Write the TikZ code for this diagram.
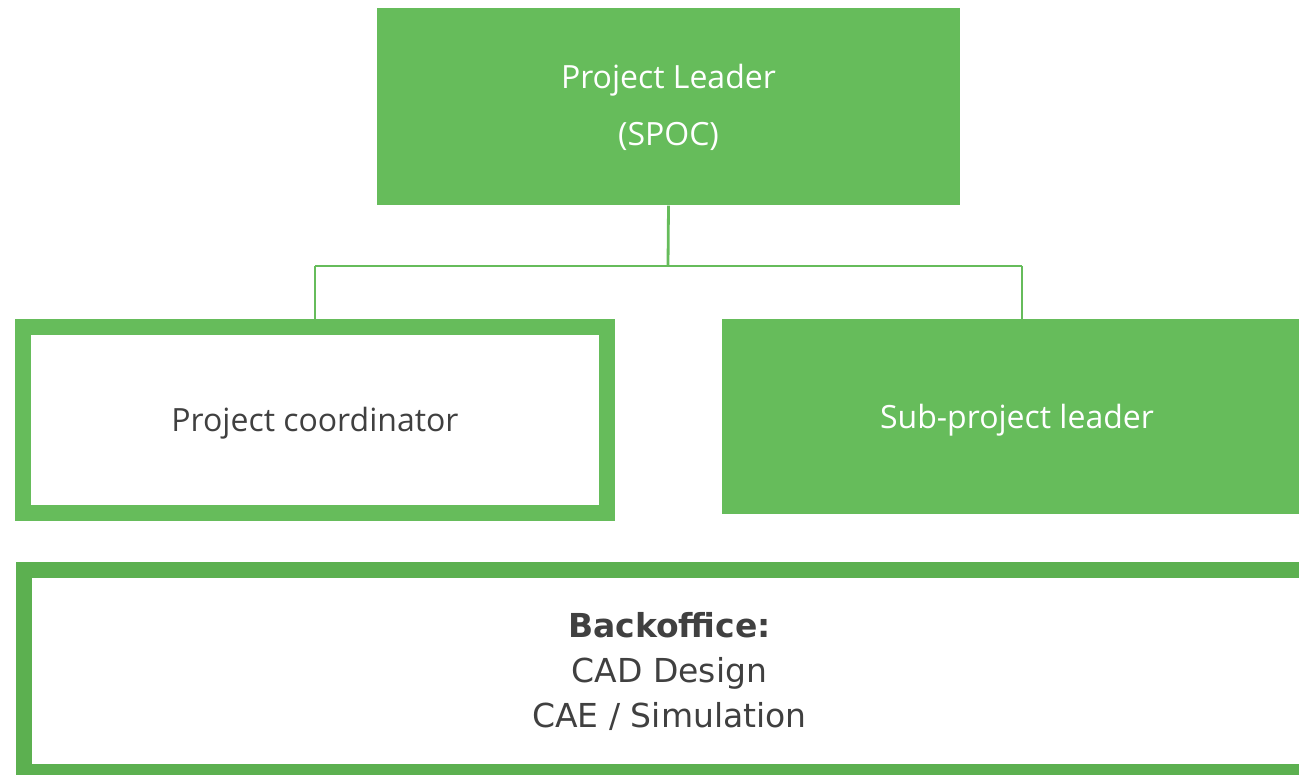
\documentclass[tikz,border=0pt]{standalone}
\usepackage{fontspec}
\newfontfamily\segfont{Open Sans}
\newfontfamily\tahfont{DejaVu Sans}
\definecolor{boxgreen}{HTML}{66BC5B}
\definecolor{framegreen}{HTML}{5CB050}
\definecolor{txtgrey}{HTML}{404040}
\tikzset{
  x=1pt, y=-1pt,
  greenbox/.style={rectangle, fill=boxgreen, draw=none, inner sep=0pt, text=white,
    font=\segfont\fontsize{32}{57}\selectfont, align=center},
  framebox/.style={rectangle, draw=#1, line width=16pt, fill=white, inner sep=0pt,
    text=txtgrey, align=center},
  conn/.style={draw=boxgreen, line width=2.8pt}
}
\begin{document}
\begin{tikzpicture}
\useasboundingbox (0,0) rectangle (1299,775);
\clip (0,0) rectangle (1299,775);
\node[greenbox, minimum width=583pt, minimum height=197pt] (top) at (668.5,107)
  {Project Leader\\(SPOC)};
\node[framebox=boxgreen, minimum width=584pt, minimum height=186pt,
  text height=31pt, text depth=7.5pt,
  font=\segfont\fontsize{32}{40}\selectfont] (left) at (315,420) {Project coordinator};
\node[greenbox, minimum width=590pt, minimum height=195pt,
  text height=32pt, text depth=7.5pt] (right) at (1017,416.5)
  {Sub-project leader};
\node[framebox=framegreen, minimum width=1291pt, minimum height=202pt,
  font=\tahfont\fontsize{33}{45}\selectfont] (back) at (669.5,671)
  {\textbf{Backoffice:}\\CAD Design\\CAE / Simulation};
\coordinate (busM) at (668,266);
\coordinate (busL) at (315,266);
\coordinate (busR) at (1022,266);
\draw[conn] (top.south) -- (busM);
\draw[conn] (busL) -- (busR);
\draw[conn] (busL) -- (left.north);
\draw[conn] (busR) -- (busR |- right.north);
\end{tikzpicture}
\end{document}
